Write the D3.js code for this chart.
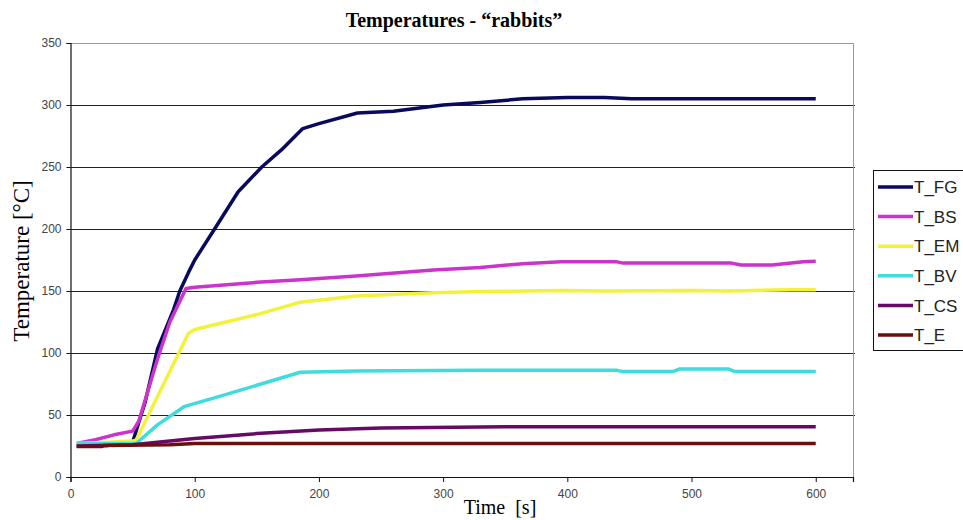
<!DOCTYPE html>
<html lang="en">
<head>
<meta charset="UTF-8">
<title>Temperatures - rabbits</title>
<script src="https://d3js.org/d3.v7.min.js"></script>
<style>
    body { margin: 0; background: #fff; }
    svg { display: block; }
</style>
</head>
<body>
<div id="chart"></div>
<script>
// series: [time s, temperature °C]
const tFG = [[5,25],[30,25.5],[50,28],[60,60],[70,103],[83,135],[88,150],[95,165],[100,175],[116,200],
    [135,230],[154,250],[170,264],[187,281],[200,285],[231,293.5],[260,295],[300,300],[330,302],
    [364,305],[400,306],[430,306],[452,305],[576,305],[600,305]];
const tBS = [[5,27],[20,30],[35,34],[50,37],[55,45],[70,95],[80,125],[93,152],[100,153],[150,157],
    [185,159],[230,162],[292,167],[330,169],[364,172],[395,173.5],[440,173.5],[445,172.5],
    [532,172.5],[540,171],[565,171],[590,173.5],[600,174]];
const tEM = [[5,27],[30,28],[50,29],[53,30],[95,116],[100,119],[150,131],[185,141],[230,146],
    [292,148.5],[330,149.5],[395,150.5],[430,150],[500,150.5],[530,150],[580,151],[600,151]];
const tBV = [[5,27],[53,27],[70,42],[92,57],[120,65],[150,74],[185,84.5],[230,85.5],[330,86],
    [440,86],[445,85],[485,85],[490,87],[530,87],[535,85],[600,85]];
const tCS = [[5,25],[50,26],[70,28],[100,31],[150,35],[200,38],[250,39.5],[350,40.5],[600,40.5]];
const tE = [[5,24.5],[25,24.5],[27,25.5],[80,26],[100,27],[300,27],[600,27]];

const seriesNames = ["T_FG", "T_BS", "T_EM", "T_BV", "T_CS", "T_E"];
const seriesData = [tFG, tBS, tEM, tBV, tCS, tE];
const seriesColors = ["#0a0a5c", "#cc33cc", "#f2f23a", "#3edcdc", "#660a66", "#6a0e0e"];
const yTicks = [0, 50, 100, 150, 200, 250, 300, 350];
const xTicks = [0, 100, 200, 300, 400, 500, 600];

const width = 963, height = 520;
const plot = {left: 70.5, right: 853, top: 43, bottom: 477};

const svg = d3.select("#chart").append("svg")
    .attr("width", width)
    .attr("height", height);

const x = d3.scaleLinear().domain([0, 630]).range([plot.left, plot.right]);
const y = d3.scaleLinear().domain([0, 350]).range([plot.bottom, plot.top]);

// gridlines
svg.append("g")
    .selectAll("line")
    .data(yTicks.filter(d => d > 0 && d < 350))
    .join("line")
    .attr("x1", plot.left).attr("x2", plot.right + 2)
    .attr("y1", d => Math.round(y(d)) + 0.5).attr("y2", d => Math.round(y(d)) + 0.5)
    .attr("stroke", "#222");

// top and right border
svg.append("path")
    .attr("d", `M${plot.left},${plot.top + 0.5}H${plot.right + 0.5}V${plot.bottom}`)
    .attr("fill", "none")
    .attr("stroke", "#999");

// lines
const line = d3.line().x(d => x(d[0])).y(d => y(d[1]));
svg.append("g")
    .selectAll("path")
    .data(seriesData)
    .join("path")
    .attr("d", line)
    .attr("fill", "none")
    .attr("stroke", (d, i) => seriesColors[i])
    .attr("stroke-width", 3.5)
    .attr("stroke-linejoin", "round");

// axes
const yAxis = svg.append("g")
    .attr("transform", `translate(${plot.left},0)`)
    .call(d3.axisLeft(y).tickValues(yTicks).tickSize(4).tickPadding(5));
const xAxis = svg.append("g")
    .attr("transform", `translate(0,${plot.bottom})`)
    .call(d3.axisBottom(x).tickValues(xTicks.concat([630])).tickSize(5).tickPadding(7)
        .tickFormat(d => d === 630 ? "" : d));

[yAxis, xAxis].forEach(a => {
    a.select(".domain").attr("stroke", "#111").attr("stroke-width", 1.2);
    a.selectAll(".tick line").attr("stroke", "#111");
    a.selectAll("text")
        .attr("fill", "#444")
        .style("font-family", "Arial, 'Liberation Sans', sans-serif")
        .style("font-size", "12px");
});

// title and axis labels
svg.append("text")
    .attr("x", 454).attr("y", 27)
    .attr("text-anchor", "middle")
    .style("font-family", "'Times New Roman', 'Liberation Serif', serif")
    .style("font-weight", "bold")
    .style("font-size", "20px")
    .text("Temperatures - \u201crabbits\u201d");

svg.append("text")
    .attr("transform", "translate(29,261) rotate(-90)")
    .attr("text-anchor", "middle")
    .style("font-family", "'Times New Roman', 'Liberation Serif', serif")
    .style("font-size", "23px")
    .text("Temperature [\u00b0C]");

svg.append("text")
    .attr("x", 500).attr("y", 514)
    .attr("text-anchor", "middle")
    .style("font-family", "'Times New Roman', 'Liberation Serif', serif")
    .style("font-size", "20px")
    .style("white-space", "pre")
    .text("Time  [s]");

// legend
const legend = svg.append("g").attr("transform", "translate(873,170)");
legend.append("rect")
    .attr("x", 0.5).attr("y", 0.5)
    .attr("width", 120).attr("height", 180)
    .attr("fill", "#fff")
    .attr("stroke", "#111");

const rowY = d3.scalePoint().domain(seriesNames).range([17, 165]);
const item = legend.selectAll("g.item")
    .data(seriesNames)
    .join("g")
    .attr("class", "item")
    .attr("transform", d => `translate(0,${rowY(d)})`);
item.append("line")
    .attr("x1", 5).attr("x2", 40)
    .attr("stroke", (d, i) => seriesColors[i])
    .attr("stroke-width", 3.5);
item.append("text")
    .attr("x", 41).attr("dy", "0.36em")
    .attr("fill", "#222")
    .style("font-family", "Arial, 'Liberation Sans', sans-serif")
    .style("font-size", "17px")
    .text(d => d);
</script>
</body>
</html>
